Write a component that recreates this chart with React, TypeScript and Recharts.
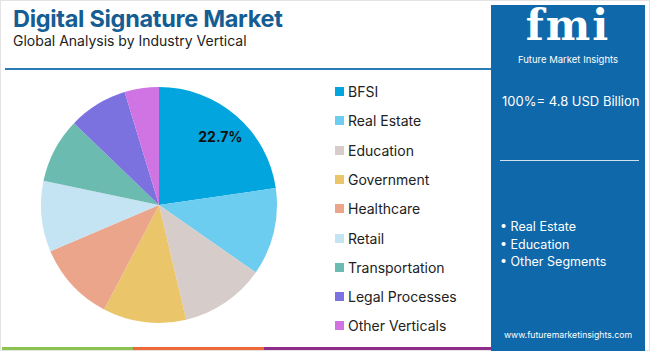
import { Pie, PieChart, Cell } from "recharts"

const segments = [
  "BFSI",
  "Real Estate",
  "Education",
  "Government",
  "Healthcare",
  "Retail",
  "Transportation",
  "Legal Processes",
  "Other Verticals",
]
const shares = [22.7, 12.0, 11.6, 11.4, 10.9, 9.7, 8.9, 8.1, 4.7]
const colors = [
  "#02a5dd",
  "#6ccdf1",
  "#d6cdca",
  "#eac56a",
  "#eaa58b",
  "#c4e3f3",
  "#6cbbb0",
  "#7b72e0",
  "#d073e3",
]
const highlights = ["Real Estate", "Education", "Other Segments"]
const marketSize = "100%= 4.8 USD Billion"

const data = segments.map((name, i) => ({ name, value: shares[i] }))

const font = "Inter, 'Open Sans', sans-serif"

const RADIAN = Math.PI / 180

function renderLabel(props: any) {
  if (props.index !== 0) return null
  const { cx, cy, midAngle, outerRadius } = props
  const r = outerRadius * 0.77
  const x = cx + r * Math.cos(-midAngle * RADIAN)
  const y = cy + r * Math.sin(-midAngle * RADIAN)
  return (
    <text x={x + 2} y={y} textAnchor="middle" dominantBaseline="central" fontSize={14} fontWeight={700} fill="#111" fontFamily={font}>
      {`${shares[0]}%`}
    </text>
  )
}

export default function App() {
  return (
    <div
      style={{
        position: "fixed",
        left: 0,
        top: 0,
        width: 650,
        height: 351,
        background: "#fff",
        fontFamily: font,
        overflow: "hidden",
      }}
    >
      <div style={{ position: "absolute", inset: 0, border: "1px solid #e3e3e3", boxSizing: "border-box" }} />
      <div style={{ position: "absolute", left: 13, top: 4, fontSize: 23.5, fontWeight: 700, color: "#155d92", letterSpacing: -0.3 }}>
        Digital Signature Market
      </div>
      <div style={{ position: "absolute", left: 13, top: 32, fontSize: 14, color: "#222" }}>
        Global Analysis by Industry Vertical
      </div>
      <div style={{ position: "absolute", left: 5, top: 68, width: 488, height: 2, background: "#2b7bb5" }} />

      <div style={{ position: "absolute", left: 0, top: 0 }}>
        <PieChart width={330} height={351} margin={{ top: 0, right: 0, bottom: 0, left: 0 }}>
          <Pie
            data={data}
            dataKey="value"
            nameKey="name"
            cx={159}
            cy={205}
            outerRadius={118}
            startAngle={90}
            endAngle={-270}
            stroke="none"
            label={renderLabel}
            labelLine={false}
            isAnimationActive={false}
          >
            {data.map((d, i) => (
              <Cell key={d.name} fill={colors[i]} />
            ))}
          </Pie>
        </PieChart>
      </div>

      {segments.map((name, i) => (
        <div
          key={name}
          style={{
            position: "absolute",
            left: 335,
            top: 83 + i * 29.3,
            display: "flex",
            alignItems: "center",
            fontSize: 14,
            color: "#222",
          }}
        >
          <span style={{ width: 9, height: 9, background: colors[i], marginRight: 4, display: "inline-block" }} />
          {name}
        </div>
      ))}

      <div style={{ position: "absolute", left: 2, top: 347, width: 131, height: 3, background: "#8cc34f" }} />
      <div style={{ position: "absolute", left: 133, top: 347, width: 131, height: 3, background: "#ec6a3a" }} />
      <div style={{ position: "absolute", left: 264, top: 347, width: 228, height: 3, background: "#8e2e8a" }} />

      <div style={{ position: "absolute", left: 491, top: 5, width: 154, height: 346, background: "#0f68a9", color: "#fff" }}>
        <div style={{ position: "absolute", left: 0, width: 154, top: -4, textAlign: "center", fontSize: 42, fontWeight: 900, fontFamily: "'DejaVu Serif', serif", letterSpacing: 2 }}>
          fmi
        </div>
        <div style={{ position: "absolute", left: 0, width: 154, top: 49, textAlign: "center", fontSize: 9.5 }}>
          Future Market Insights
        </div>
        <div style={{ position: "absolute", left: 11, top: 88, fontSize: 13, whiteSpace: "nowrap" }}>{marketSize}</div>
        <div style={{ position: "absolute", left: 9, top: 155, width: 139, height: 1, background: "#cfe0ee" }} />
        {highlights.map((h, i) => (
          <div key={h} style={{ position: "absolute", left: 9, top: 214 + i * 17.5, fontSize: 12.5 }}>
            • {h}
          </div>
        ))}
        <div style={{ position: "absolute", left: 0, width: 154, top: 325, textAlign: "center", fontSize: 8.7 }}>
          www.futuremarketinsights.com
        </div>
      </div>
    </div>
  )
}
